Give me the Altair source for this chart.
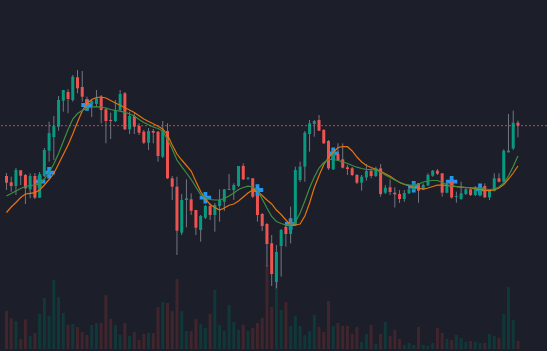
import altair as alt
import pandas as pd

# ---- OHLC series (price units) ----
opens = [175, 168.7, 165, 180.7, 176, 161.7, 175, 153.3, 175, 200.3,
         214, 224.3, 250.3, 259, 251, 273.7, 264, 251.7, 247, 247,
         254.3, 241.7, 231, 230, 241, 257.7, 221.7, 235, 225, 219.3,
         208.3, 220, 219.3, 194.3, 220, 172.7, 164.3, 118.3, 151, 151.7,
         141, 121, 133.3, 145, 136, 145, 149.3, 161, 161, 165,
         185, 172.3, 172.7, 156, 137, 127, 107.7, 69, 105, 124.3,
         117, 126, 171, 184.3, 217, 227, 231, 221, 210, 181.7,
         197, 191.7, 183.7, 182.7, 176, 168.3, 173.5, 180, 175, 182.7,
         158.3, 163.7, 158.3, 157, 152, 157.7, 160.7, 168, 161.7, 165.7,
         175.3, 180.3, 177.7, 158.3, 169.3, 154, 152, 157, 161.7, 156,
         155.5, 165, 153.7, 160.3, 172.7, 169.3, 198.7, 202.7, 228.3]
highs = [178, 174.3, 183, 181, 177, 177.7, 178, 179, 203, 229.3,
         235, 255, 261, 261.7, 276, 281, 280, 254.3, 251, 261,
         256, 243, 238.3, 251, 261, 259, 239.3, 238, 227.7, 221,
         223, 222, 220, 230, 227.7, 175, 174.3, 157, 171.7, 157.7,
         141, 136, 146, 147.7, 148, 161.7, 161.7, 177, 167.7, 185,
         187.7, 174, 173, 157, 138, 128, 116, 106, 122, 127,
         144.3, 184.3, 189.3, 220, 231, 231, 236, 222, 211, 201,
         207.7, 207.7, 186, 184, 177, 176, 187, 182.7, 184.3, 187,
         166, 171.7, 163.7, 161, 161, 163.7, 169.3, 168, 167.7, 177.7,
         181, 182, 177.7, 169.3, 171, 159.3, 169.3, 163.3, 162.7, 165,
         164.5, 167.7, 162, 177.7, 177.7, 201.7, 237, 240.3, 230.3]
lows = [161, 159.3, 156, 166, 147, 152.7, 152, 153, 174, 189.3,
        191, 220.3, 239.3, 237.7, 249.3, 257.7, 249.3, 241, 234, 245,
        227.7, 207.7, 212, 229, 240, 221, 217, 217, 216, 207,
        201, 207.7, 189.3, 193, 172, 151, 96, 116, 123.7, 136,
        116, 109.3, 132, 131, 119.3, 129.3, 140, 161, 151, 164,
        171, 171, 153, 129.3, 120, 84.3, 65, 62.7, 74.3, 104.3,
        107.7, 125, 169, 169.3, 199.3, 214.3, 220, 207, 181, 181,
        190, 182.5, 176, 175, 167, 160.3, 170.3, 172.7, 174, 154.3,
        157, 156, 143.5, 148, 149.3, 157, 160, 148.3, 161, 165,
        174.3, 176, 154.3, 157.7, 152.5, 148.3, 151.3, 156, 155, 155,
        154.5, 153, 151, 159.5, 168.5, 168.5, 198.5, 201, 213.7]
closes = [168.3, 165, 181, 175.3, 162.7, 175, 153.3, 177, 201, 218,
          225, 251, 261, 252, 274.3, 262.7, 254.3, 246, 250, 252.7,
          241, 230, 230, 241, 257, 221.7, 235, 224.3, 218.3, 208.3,
          220, 218.3, 195, 220, 172.7, 164.3, 120.3, 151, 152.7, 140.3,
          123.3, 135, 145, 136, 146, 151, 161.7, 162, 166, 185,
          171.7, 173.3, 154.3, 136, 125, 107, 77, 99, 121, 117,
          126, 181, 184.3, 218.3, 227.7, 230, 220.3, 207.7, 182.7, 199.3,
          191, 183.3, 182, 176, 168.3, 174.3, 180, 175, 182.7, 157,
          163.3, 159, 156.7, 152, 158, 161.7, 167.7, 160.3, 166, 176,
          180.3, 177.3, 158.3, 168.3, 153.5, 155, 157.7, 161.7, 156, 163.7,
          163, 153.7, 160.3, 172.7, 169.3, 200.3, 200.3, 228.3, 225.3]
volumes = [38, 30.7, 28, 10, 29.7, 13, 16, 35, 51, 33,
           69, 52, 36, 24, 25, 22, 17, 14, 24, 26,
           26, 54, 30, 24, 14, 26, 13, 17, 9, 15,
           16, 16, 42, 47, 46, 38, 70, 38, 18, 18,
           30, 25, 21, 35, 59, 24, 18, 44, 27, 19,
           24, 18, 21, 26, 31, 84, 42, 74, 39, 47,
           23, 33, 23, 14, 18, 34, 22, 17, 48, 23,
           26, 23, 23, 15, 22, 7, 15, 24, 5, 15,
           27, 13, 19, 10, 4, 6, 4, 22, 4, 3,
           6, 21, 16, 10, 9, 14, 11, 7, 8, 7,
           6, 6, 15, 13, 11, 35, 62, 29, 8]
ma_fast = [155, 157.5, 160, 162.5, 164.5, 165.5, 166, 167, 172, 178.5,
           187, 197.5, 209.5, 221.5, 232, 237.5, 240.5, 242.5, 244, 244.3,
           244, 243, 241.5, 240.5, 239.8, 238.7, 237, 235, 231.5, 228.5,
           226.2, 224, 222.5, 220, 211.5, 202, 191, 184.3, 178, 171.5,
           164, 156.5, 153.5, 151.5, 151, 151, 152.5, 155, 158, 161.5,
           163.5, 164.8, 164, 160.5, 152, 143, 134.5, 129.5, 127.5, 126,
           126.5, 129, 138, 150, 163, 174, 183, 188.5, 191.5, 191.5,
           190.5, 189.2, 187.5, 185.5, 183.8, 182.5, 181.5, 181.3, 181, 179,
           176, 173.5, 171, 168.8, 167, 165.8, 165.2, 167, 169, 170,
           170.5, 170.5, 168.5, 166, 165.2, 164.5, 164, 163.5, 163.3, 163,
           162.8, 162, 161.5, 162, 164, 168, 175, 184.5, 195]
ma_slow = [138.5, 144, 148.5, 153.5, 157, 157.7, 158.3, 161, 166, 171.5,
           177.5, 187, 196.5, 206, 217, 229, 240, 247.5, 251.5, 253.5,
           254, 253, 250.5, 248, 245.7, 243.2, 241, 238.5, 235.2, 232,
           229.5, 227.2, 224.7, 222, 216, 206, 197, 191, 185.5, 180,
           169.5, 159.5, 152, 146.5, 143.5, 141, 143, 145.8, 147, 150,
           154, 158, 161, 159.7, 155.5, 151, 147, 141, 136.5, 131,
           126, 126, 127, 135, 148, 163.5, 175.5, 186.5, 193.5, 198.5,
           203.5, 204.3, 204.3, 200, 194, 189, 185.5, 183.5, 181.8, 179.7,
           177.3, 174.8, 171.5, 168.5, 166.5, 165.3, 163.8, 162.8, 161.8, 163,
           164.5, 165.8, 165.8, 165.5, 165, 164.4, 163.9, 163.5, 163, 162.4,
           161.5, 160.5, 160.3, 161, 163, 166.5, 172, 178, 185]
marker_idx = [7, 9, 17, 42, 53, 60, 69, 86, 94, 100]
marker_price = [169.3, 178.3, 246, 153.3, 161, 127, 197.7, 164.3, 169.3, 161.7]

BG = "#1c1f2a"
UP = "#089981"
DOWN = "#ef5350"
WICK = "#737682"
VOL_UP = "#113839"
VOL_DOWN = "#40252c"
FAST = "#3d8f40"
SLOW = "#e8720c"
MARK = "#2196f3"

n = len(opens)
df = pd.DataFrame({
    "i": list(range(n)),
    "open": opens, "high": highs, "low": lows, "close": closes,
    "volume": volumes,
})
df["dir"] = ["up" if c >= o else "down" for o, c in zip(opens, closes)]
ma_df = pd.DataFrame({"i": list(range(n)), "fast": ma_fast, "slow": ma_slow})
mk_df = pd.DataFrame({"i": marker_idx, "price": marker_price})
last_df = pd.DataFrame({"price": [closes[-1]]})

W, H = 547, 351
xscale = alt.Scale(domain=[-0.311, 113.08], nice=False, zero=False)
yscale = alt.Scale(domain=[0, 351], nice=False, zero=False)
X = alt.X("i:Q", scale=xscale, axis=None)

base = alt.Chart(df)

vol = base.mark_bar(size=3).encode(
    x=X,
    y=alt.Y("volume:Q", scale=alt.Scale(domain=[-2, 349], nice=False, zero=False), axis=None),
    y2=alt.datum(0),
    color=alt.Color("dir:N", scale=alt.Scale(domain=["up", "down"], range=[VOL_UP, VOL_DOWN]), legend=None),
)

cross_path = "M-1,-0.33H-0.33V-1H0.33V-0.33H1V0.33H0.33V1H-0.33V0.33H-1Z"
markers = alt.Chart(mk_df).mark_point(shape=cross_path, filled=True, size=130, color=MARK, opacity=1).encode(
    x=X, y=alt.Y("price:Q", scale=yscale, axis=None)
)

wicks = base.mark_rule(color=WICK, strokeWidth=1).encode(
    x=X, y=alt.Y("low:Q", scale=yscale, axis=None), y2="high:Q"
)
bodies = base.mark_bar(size=3).encode(
    x=X,
    y=alt.Y("open:Q", scale=yscale, axis=None),
    y2="close:Q",
    color=alt.Color("dir:N", scale=alt.Scale(domain=["up", "down"], range=[UP, DOWN]), legend=None),
)

slow_line = alt.Chart(ma_df).mark_line(color=SLOW, strokeWidth=1.2).encode(
    x=X, y=alt.Y("slow:Q", scale=yscale, axis=None)
)
fast_line = alt.Chart(ma_df).mark_line(color=FAST, strokeWidth=1.2).encode(
    x=X, y=alt.Y("fast:Q", scale=yscale, axis=None)
)

last_line = alt.Chart(last_df).mark_rule(color=DOWN, strokeDash=[2, 2], strokeWidth=1, opacity=0.8).encode(
    y=alt.Y("price:Q", scale=yscale, axis=None)
)

price_layers = alt.layer(markers, wicks, bodies, slow_line, fast_line, last_line)

chart = alt.layer(vol, price_layers).resolve_scale(y="independent", color="independent").properties(
    width=W, height=H, background=BG, padding=0, autosize=alt.AutoSizeParams(type="none")
).configure_view(strokeWidth=0)

chart.save("out.html", embed_options={"renderer": "svg", "actions": False})
